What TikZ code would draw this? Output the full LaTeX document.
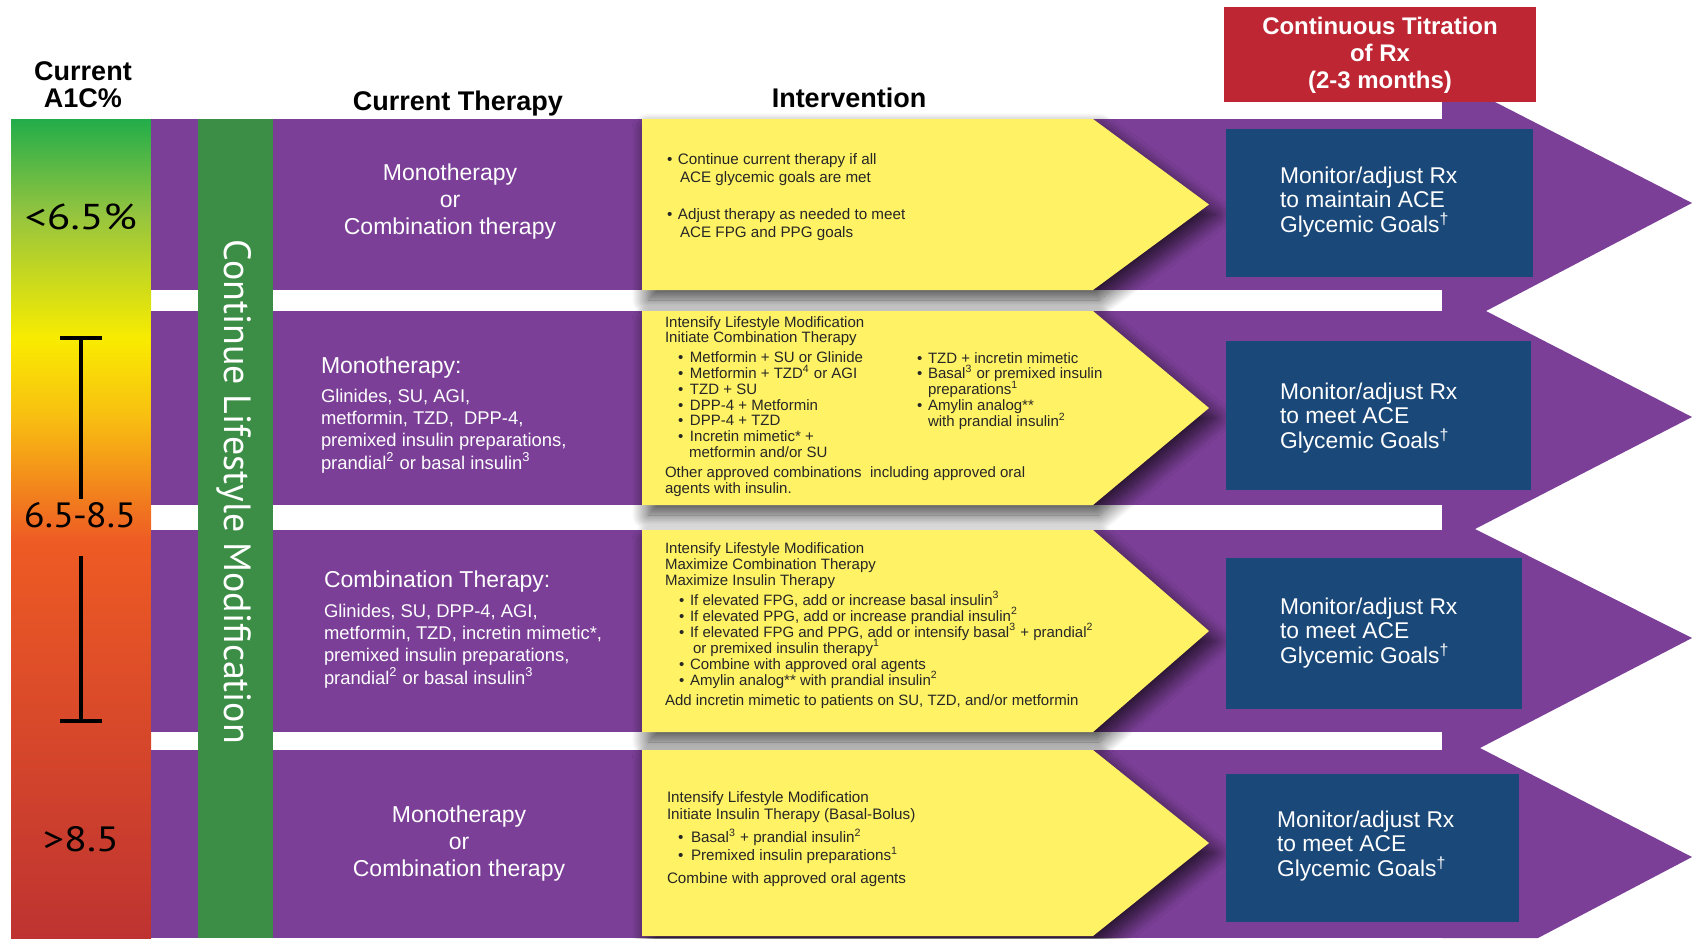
\documentclass[tikz,border=0pt]{standalone}
\usepackage{fontspec}
\setmainfont{Liberation Sans}
\newfontfamily\myriad{PT Sans}
\usetikzlibrary{shadows.blur}
\definecolor{purp}{HTML}{7B3F97}
\definecolor{grn}{HTML}{3C8E46}
\definecolor{ylw}{HTML}{FFF264}
\definecolor{blu}{HTML}{1A4878}
\definecolor{rbox}{HTML}{BD2632}
\definecolor{gA}{HTML}{22AD4A}
\definecolor{gB}{HTML}{93C43F}
\definecolor{gC}{HTML}{F9EC00}
\definecolor{gD}{HTML}{F8BC12}
\definecolor{gE}{HTML}{EE5B24}
\definecolor{gF}{HTML}{BE3331}
\newcommand{\CLines}[1]{\vtop{\lineskiplimit=-50pt\halign{\hfil##\hfil\cr#1\crcr}}}
\newcommand{\LLines}[1]{\vtop{\lineskiplimit=-50pt\halign{##\hfil\cr#1\crcr}}}
\newcommand{\Bt}[2]{\hskip #1\makebox[#2][l]{\textbullet}}
\begin{document}
\begin{tikzpicture}[x=0.5pt,y=-0.5pt,
  txt/.style={inner sep=0pt, outer sep=0pt},
  head/.style={txt, font=\bfseries\fontsize{13.5}{13.5}\selectfont},
  ytxt/.style={txt, anchor=base west, font=\fontsize{7.5}{7.9}\selectfont, text=black!85},
  ptxt/.style={txt, text=white},
  btxt/.style={txt, anchor=base west, text=white, font=\fontsize{11.4}{12.3}\selectfont},
  a1c/.style={txt, anchor=base, font=\myriad\fontsize{20}{20}\selectfont},
  yarrow/.style={fill=ylw, blur shadow={shadow xshift=3pt, shadow yshift=-5pt, shadow blur radius=8pt, shadow blur steps=24, shadow opacity=75}},
  bar/.style={line width=2pt}]
\useasboundingbox (0,0) rectangle (1692,938);
% A1C gradient bar
\shade[top color=gA, bottom color=gB] (11,119) rectangle (151,213);
\shade[top color=gB, bottom color=gC] (11,212) rectangle (151,339);
\shade[top color=gC, bottom color=gD] (11,338) rectangle (151,421);
\shade[top color=gD, bottom color=gE] (11,420) rectangle (151,541);
\shade[top color=gE, bottom color=gF] (11,540) rectangle (151,938);
% purple band
\fill[purp] (151,119) rectangle (1443,290);
\fill[purp] (151,311) rectangle (1443,505);
\fill[purp] (151,530) rectangle (1443,732);
\fill[purp] (151,750) rectangle (1443,938);
\fill[purp] (1442,102) -- (1495,102) -- (1692,203) -- (1486,311) -- (1692,417) -- (1475,529)
  -- (1692,638) -- (1480,748) -- (1692,857) -- (1538,938) -- (1442,938) -- cycle;
% green lifestyle column
\fill[grn] (198,119) rectangle (273,938);
% yellow arrows
\path[yarrow] (642,119) -- (1093,119) -- (1209,204.5) -- (1093,290) -- (642,290) -- cycle;
\path[yarrow] (642,311) -- (1093,311) -- (1209,408) -- (1093,505) -- (642,505) -- cycle;
\path[yarrow] (642,530) -- (1093,530) -- (1209,631) -- (1093,732) -- (642,732) -- cycle;
\path[yarrow] (642,750) -- (1093,750) -- (1209,843) -- (1093,936) -- (642,936) -- cycle;
% blue boxes
\fill[blu] (1226,129) rectangle (1533,277);
\fill[blu] (1226,341) rectangle (1531,490);
\fill[blu] (1226,558) rectangle (1522,709);
\fill[blu] (1226,774) rectangle (1519,922);
% red box
\fill[rbox] (1224,7) rectangle (1536,102);
% headings
\node[head, anchor=base] (hA1C) at (83,80) {\CLines{Current\cr A1C\%\cr}};
\node[head, anchor=base] (hCT) at (458,110) {Current Therapy};
\node[head, anchor=base] (hInt) at (849,107) {Intervention};
\node[txt, anchor=base, text=white, font=\bfseries\fontsize{12}{13.5}\selectfont] (hTit) at (1380,34)
  {\CLines{Continuous Titration\cr of Rx\cr (2-3 months)\cr}};
% A1C labels
\node[a1c] (l1) at (81,229) {\resizebox{56pt}{12.8pt}{<6.5\%}};
\node[a1c] (l2) at (80,527) {\resizebox{56pt}{12.5pt}{6.5\kern-0.5pt-\kern-0.5pt8.5}};
\node[a1c] (l3) at (81,851) {\resizebox{38pt}{12.5pt}{>8.5}};
\draw[bar] (60,338) -- (102,338) (81,338) -- (81,499);
\draw[bar] (81,556) -- (81,721) (60,721) -- (102,721);
% lifestyle
\node[txt, text=white, rotate=-90, font=\myriad\fontsize{17.5}{17.5}\selectfont] (life) at (234,492)
  {\resizebox{252pt}{!}{Continue Lifestyle Modification}};
% current therapy texts
\node[ptxt, anchor=base, font=\fontsize{11.5}{13.5}\selectfont] (ct1) at (450,180)
  {\CLines{Monotherapy\cr or\cr Combination therapy\cr}};
\node[ptxt, anchor=base west, font=\fontsize{11.5}{13.5}\selectfont] (ct2h) at (321,373) {Monotherapy:};
\node[ptxt, anchor=base west, font=\fontsize{9.2}{11.2}\selectfont] (ct2) at (321,402)
  {\LLines{Glinides, SU, AGI,\cr metformin, TZD,\ \ DPP-4,\cr premixed insulin preparations,\cr prandial\textsuperscript{2} or basal insulin\textsuperscript{3}\cr}};
\node[ptxt, anchor=base west, font=\fontsize{11.5}{13.5}\selectfont] (ct3h) at (324,587) {Combination Therapy:};
\node[ptxt, anchor=base west, font=\fontsize{9.2}{11.2}\selectfont] (ct3) at (324,617)
  {\LLines{Glinides, SU, DPP-4, AGI,\cr metformin, TZD, incretin mimetic*,\cr premixed insulin preparations,\cr prandial\textsuperscript{2} or basal insulin\textsuperscript{3}\cr}};
\node[ptxt, anchor=base, font=\fontsize{11.5}{13.5}\selectfont] (ct4) at (459,822)
  {\CLines{Monotherapy\cr or\cr Combination therapy\cr}};
% intervention texts
\node[ytxt, font=\fontsize{7.6}{9}\selectfont] (iv1) at (667,164)
  {\LLines{\makebox[5.5pt][l]{\textbullet}Continue current therapy if all\cr
  \hskip 6.5pt ACE glycemic goals are met\cr
  \noalign{\vskip 9.5pt}
  \makebox[5.5pt][l]{\textbullet}Adjust therapy as needed to meet\cr
  \hskip 6.5pt ACE FPG and PPG goals\cr}};
\node[ytxt] (iv2) at (665,327)
  {\LLines{Intensify Lifestyle Modification\cr
  Initiate Combination Therapy\cr
  \noalign{\vskip 2pt}
  \Bt{6.5pt}{6pt}Metformin + SU or Glinide\cr
  \Bt{6.5pt}{6pt}Metformin + TZD\textsuperscript{4} or AGI\cr
  \Bt{6.5pt}{6pt}TZD + SU\cr
  \Bt{6.5pt}{6pt}DPP-4 + Metformin\cr
  \Bt{6.5pt}{6pt}DPP-4 + TZD\cr
  \Bt{6.5pt}{6pt}Incretin mimetic* +\cr
  \hskip 12pt metformin and/or SU\cr
  \noalign{\vskip 2pt}
  Other approved combinations\ \ including approved oral\cr
  agents with insulin.\cr}};
\node[ytxt] (iv2r) at (917,363)
  {\LLines{\makebox[5.5pt][l]{\textbullet}TZD + incretin mimetic\cr
  \makebox[5.5pt][l]{\textbullet}Basal\textsuperscript{3} or premixed insulin\cr
  \hskip 5.5pt preparations\textsuperscript{1}\cr
  \makebox[5.5pt][l]{\textbullet}Amylin analog**\cr
  \hskip 5.5pt with prandial insulin\textsuperscript{2}\cr}};
\node[ytxt, font=\fontsize{7.5}{8}\selectfont] (iv3) at (665,553)
  {\LLines{Intensify Lifestyle Modification\cr
  Maximize Combination Therapy\cr
  Maximize Insulin Therapy\cr
  \noalign{\vskip 2pt}
  \Bt{7pt}{5.5pt}If elevated FPG, add or increase basal insulin\textsuperscript{3}\cr
  \Bt{7pt}{5.5pt}If elevated PPG, add or increase prandial insulin\textsuperscript{2}\cr
  \Bt{7pt}{5.5pt}If elevated FPG and PPG, add or intensify basal\textsuperscript{3} + prandial\textsuperscript{2}\cr
  \hskip 14pt or premixed insulin therapy\textsuperscript{1}\cr
  \Bt{7pt}{5.5pt}Combine with approved oral agents\cr
  \Bt{7pt}{5.5pt}Amylin analog** with prandial insulin\textsuperscript{2}\cr
  \noalign{\vskip 2pt}
  Add incretin mimetic to patients on SU, TZD, and/or metformin\cr}};
\node[ytxt, font=\fontsize{7.6}{8.75}\selectfont] (iv4) at (667,802)
  {\LLines{Intensify Lifestyle Modification\cr
  Initiate Insulin Therapy (Basal-Bolus)\cr
  \noalign{\vskip 2.75pt}
  \Bt{5.5pt}{6.5pt}Basal\textsuperscript{3} + prandial insulin\textsuperscript{2}\cr
  \Bt{5.5pt}{6.5pt}Premixed insulin preparations\textsuperscript{1}\cr
  \noalign{\vskip 2.75pt}
  Combine with approved oral agents\cr}};
% monitor texts
\node[btxt] (m1) at (1280,183) {\LLines{Monitor/adjust Rx\cr to maintain ACE\cr Glycemic Goals\textsuperscript{\textdagger}\cr}};
\node[btxt] (m2) at (1280,399) {\LLines{Monitor/adjust Rx\cr to meet ACE\cr Glycemic Goals\textsuperscript{\textdagger}\cr}};
\node[btxt] (m3) at (1280,614) {\LLines{Monitor/adjust Rx\cr to meet ACE\cr Glycemic Goals\textsuperscript{\textdagger}\cr}};
\node[btxt] (m4) at (1277,827) {\LLines{Monitor/adjust Rx\cr to meet ACE\cr Glycemic Goals\textsuperscript{\textdagger}\cr}};
\end{tikzpicture}
\end{document}
